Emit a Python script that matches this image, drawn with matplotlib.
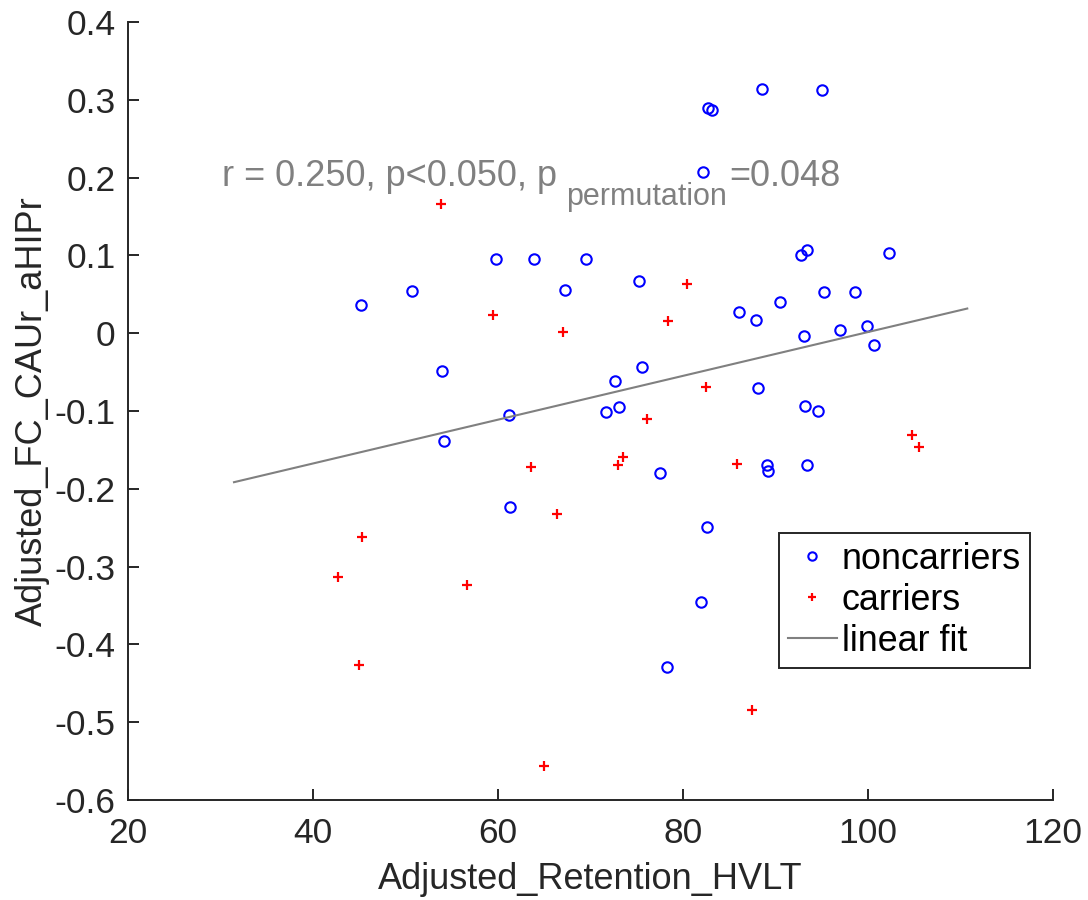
import matplotlib
matplotlib.use('Agg')
import matplotlib.pyplot as plt

plt.rcParams['font.family'] = ['Liberation Sans', 'DejaVu Sans']
plt.rcParams['axes.unicode_minus'] = False

# noncarriers
nc_x = [45.15, 50.74, 53.91, 54.16, 59.75, 61.23, 61.3, 63.89, 67.24, 69.5,
        71.68, 72.65, 73.12, 75.24, 75.57, 77.51, 78.23, 81.95, 82.13, 82.55,
        82.74, 83.18, 86.1, 87.93, 88.1, 88.5, 89.03, 89.14, 90.52, 92.78,
        93.1, 93.15, 93.36, 93.43, 94.6, 95.03, 95.2, 97.0, 98.55, 99.85,
        100.6, 102.3]
nc_y = [0.036, 0.054, -0.049, -0.139, 0.095, -0.105, -0.223, 0.095, 0.055, 0.095,
        -0.101, -0.062, -0.0955, 0.0677, -0.043, -0.1795, -0.429, -0.345, 0.207, -0.249,
        0.290, 0.2875, 0.027, 0.017, -0.070, 0.3136, -0.169, -0.1774, 0.040, 0.1007,
        -0.004, -0.094, -0.169, 0.107, -0.0994, 0.312, 0.0535, 0.004, 0.0535, 0.009,
        -0.0154, 0.1036]

# carriers
c_x = [42.74, 44.93, 45.33, 53.8, 56.68, 59.42, 63.57, 65.0, 66.4, 66.99,
       73.0, 73.55, 76.07, 78.34, 80.43, 82.44, 85.84, 87.46, 104.72, 105.47]
c_y = [-0.313, -0.427, -0.262, 0.166, -0.324, 0.023, -0.172, -0.5557, -0.232, 0.001,
       -0.169, -0.159, -0.1097, 0.0163, 0.0626, -0.0694, -0.1684, -0.4846, -0.131, -0.146]

# linear fit ends
fit_x = [31.46, 110.73]
fit_y = [-0.1915, 0.0317]

xticks = [20, 40, 60, 80, 100, 120]
yticks = [0.4, 0.3, 0.2, 0.1, 0, -0.1, -0.2, -0.3, -0.4, -0.5, -0.6]
ytick_labels = ['0.4', '0.3', '0.2', '0.1', '0', '-0.1', '-0.2', '-0.3', '-0.4', '-0.5', '-0.6']

gray = (0.5, 0.5, 0.5)
dark = '#262626'

fig = plt.figure(figsize=(10.88, 9), dpi=100)
ax = fig.add_axes([128 / 1088, 1 - 800 / 900, 925 / 1088, 778 / 900])

ax.plot(nc_x, nc_y, 'o', color='blue', markerfacecolor='none', markersize=7.5,
        markeredgewidth=1.5, label='noncarriers')
ax.plot(c_x, c_y, '+', color='red', markersize=7, markeredgewidth=1.6, label='carriers')
ax.plot(fit_x, fit_y, '-', color=gray, linewidth=1.5, label='linear fit')

# stats text, subscript drawn as its own piece
t1 = ax.text(30.2, 0.189, 'r = 0.250, p<0.050, p', color=gray, fontsize=26,
             va='baseline', ha='left')
t2 = ax.annotate('permutation', xy=(1, 0.189), xycoords=(t1, 'data'),
                 xytext=(6, -13.7), textcoords='offset points',
                 color=gray, fontsize=22, va='baseline', ha='left')
t3 = ax.annotate('=0.048', xy=(1, 0.189), xycoords=(t2, 'data'),
                 xytext=(2, 0), textcoords='offset points',
                 color=gray, fontsize=26, va='baseline', ha='left')

ax.set_xlim(20, 120)
ax.set_ylim(-0.6, 0.4)
ax.set_xticks(xticks)
ax.set_yticks(yticks)
ax.set_yticklabels(ytick_labels)

for s in ['top', 'right']:
    ax.spines[s].set_visible(False)
for s in ['left', 'bottom']:
    ax.spines[s].set_color(dark)
    ax.spines[s].set_linewidth(1.4)
ax.tick_params(direction='in', length=8, width=1.4, color=dark,
               labelcolor=dark, labelsize=25.5)
ax.tick_params(axis='x', pad=12)
ax.tick_params(axis='y', pad=9)

ax.set_xlabel('Adjusted_Retention_HVLT', fontsize=26, color=dark, labelpad=9)
ax.set_ylabel('Adjusted_FC_CAUr_aHIPr', fontsize=26, color=dark, labelpad=3)

leg = ax.legend(loc='lower left', bbox_to_anchor=(0.704, 0.170), fontsize=25.8,
                frameon=True, fancybox=False, framealpha=1, edgecolor=dark,
                handlelength=1.35, handletextpad=0.15, borderpad=0.25, labelspacing=0.17,
                borderaxespad=0, markerscale=0.8)
leg.get_frame().set_linewidth(1.4)

plt.savefig('out.png', dpi=100)
